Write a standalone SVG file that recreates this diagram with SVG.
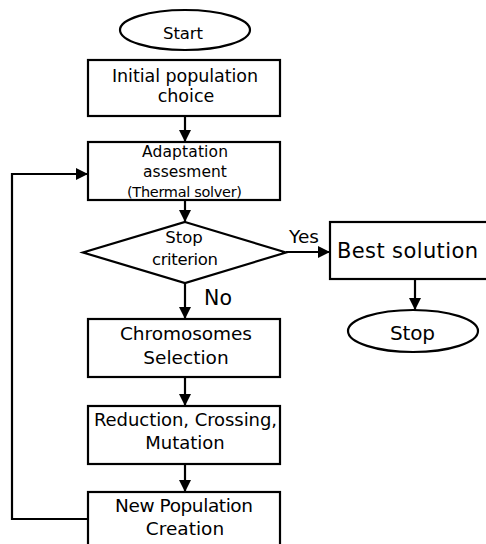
<svg xmlns="http://www.w3.org/2000/svg" width="486" height="544" viewBox="0 0 486 544">
<style>
.shape{fill:#fff;stroke:#000;stroke-width:2.2}
.conn{fill:none;stroke:#000;stroke-width:2.2}
text{font-family:"DejaVu Sans","Liberation Sans",sans-serif;fill:#000;text-anchor:middle}
</style>
<defs>
<marker id="ah" markerUnits="userSpaceOnUse" markerWidth="12" markerHeight="12" viewBox="0 0 12 12" refX="12" refY="6" orient="auto">
<path d="M0,0 L12,6 L0,12 Z" fill="#000"/>
</marker>
</defs>
<rect width="486" height="544" fill="#fff"/>
<g id="connectors">
<line class="conn" x1="185" y1="116" x2="185" y2="142" marker-end="url(#ah)"/>
<line class="conn" x1="185" y1="200" x2="185" y2="222" marker-end="url(#ah)"/>
<line class="conn" x1="185" y1="283" x2="185" y2="319" marker-end="url(#ah)"/>
<line class="conn" x1="185" y1="377" x2="185" y2="406" marker-end="url(#ah)"/>
<line class="conn" x1="185" y1="464" x2="185" y2="492" marker-end="url(#ah)"/>
<line class="conn" x1="286" y1="252" x2="330" y2="252" marker-end="url(#ah)"/>
<line class="conn" x1="415" y1="279" x2="415" y2="310" marker-end="url(#ah)"/>
<polyline class="conn" points="88,519 12,519 12,174 88,174" marker-end="url(#ah)"/>
<text x="304" y="243" font-size="18.5">Yes</text>
<text x="218" y="305" font-size="20.5">No</text>
</g>
<g id="start">
<ellipse class="shape" cx="185" cy="30" rx="65" ry="20"/>
<text x="183" y="38.5" font-size="16.5" textLength="40">Start</text>
</g>
<g id="initial">
<rect class="shape" x="88" y="60" width="192" height="56"/>
<text x="185" y="82" font-size="17.5" textLength="146">Initial population</text>
<text x="186" y="102" font-size="17.5">choice</text>
</g>
<g id="adaptation">
<rect class="shape" x="88" y="142" width="192" height="58"/>
<text x="185" y="157" font-size="15.5" textLength="86">Adaptation</text>
<text x="185" y="177" font-size="15.5">assesment</text>
<text x="184.5" y="197" font-size="14.5" textLength="115">(Thermal solver)</text>
</g>
<g id="stop-criterion">
<polygon class="shape" points="185,222 286,252.5 185,283 83,252.5"/>
<text x="184" y="243" font-size="16.5">Stop</text>
<text x="185" y="265" font-size="16.5" textLength="66">criterion</text>
</g>
<g id="best">
<rect class="shape" x="330" y="222" width="170" height="57"/>
<text x="407.5" y="258" font-size="21" textLength="141">Best solution</text>
</g>
<g id="stop">
<ellipse class="shape" cx="413" cy="331" rx="65" ry="21"/>
<text x="412.5" y="340" font-size="20" textLength="45">Stop</text>
</g>
<g id="selection">
<rect class="shape" x="88" y="319" width="192" height="58"/>
<text x="186" y="340" font-size="18.5" textLength="132">Chromosomes</text>
<text x="186" y="364" font-size="18.5">Selection</text>
</g>
<g id="reduction">
<rect class="shape" x="88" y="406" width="192" height="58"/>
<text x="185.5" y="426" font-size="18" textLength="183">Reduction, Crossing,</text>
<text x="185" y="449" font-size="18">Mutation</text>
</g>
<g id="newpop">
<rect class="shape" x="88" y="492" width="192" height="60"/>
<text x="184" y="512" font-size="18.5" textLength="138">New Population</text>
<text x="185" y="535" font-size="18.5">Creation</text>
</g>
</svg>
